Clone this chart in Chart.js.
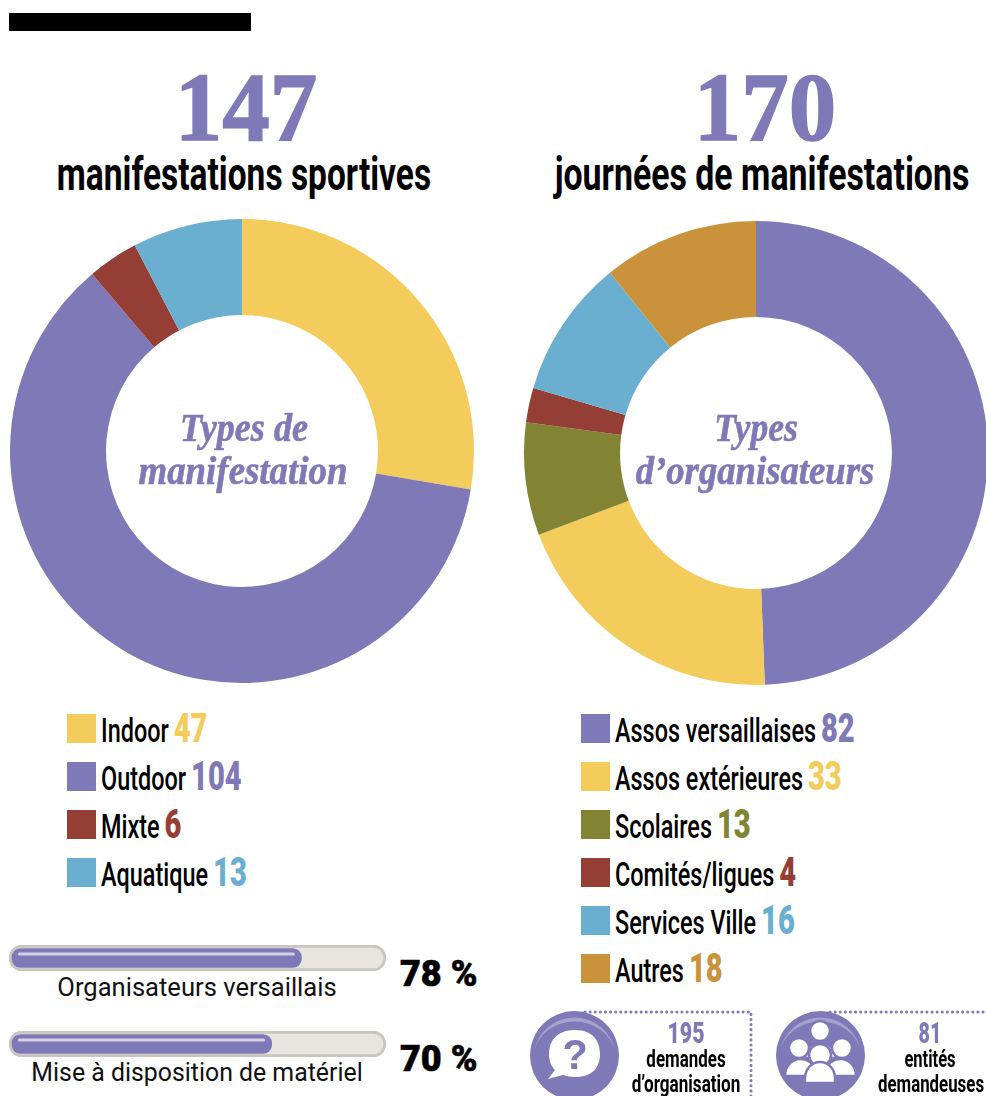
<!DOCTYPE html>
<html>
<head>
<meta charset="utf-8">
<script src="https://cdn.jsdelivr.net/npm/chart.js@4"></script>
<style>
html, body { margin: 0; padding: 0; background: #fff; }
#page { position: relative; width: 986px; height: 1096px; overflow: hidden; }
#page canvas { position: absolute; }
.t { position: absolute; white-space: nowrap; line-height: 1; transform: translateX(-50%); }
.big { font: bold 97px "Liberation Serif"; color: #8079b7; -webkit-text-stroke: 1.5px #8079b7; }
.title { font: bold 47px Roboto; color: #000; }
.script { font: italic bold 39px "Liberation Serif"; color: #8079b7; -webkit-text-stroke: 0.6px #8079b7; }
.legend { font: 500 33px Roboto; color: #000; transform: scaleX(0.71); transform-origin: left center; }
.legend b { font-size: 41px; font-weight: 900; margin-left: 7px; }
.swatch { position: absolute; width: 29px; height: 29px; }
.pct { font: 900 36px Roboto; color: #000; -webkit-text-stroke: 0.6px #000; transform: none; }
.barlabel { font: 25px Roboto; color: #111; }
.num { font: 900 30px Roboto; color: #8079b7; }
.small { font: bold 24px Roboto; color: #000; }
svg { position: absolute; left: 0; top: 0; }
</style>
</head>
<body>
<div id="page">
  <div style="position:absolute;left:9px;top:13px;width:242px;height:18px;background:#000"></div>

  <div class="t big" data-w="143" style="left:246px;top:52px">147</div>
  <div class="t title" data-w="374" style="left:244px;top:146px">manifestations sportives</div>
  <div class="t big" data-w="143" style="left:765px;top:52px">170</div>
  <div class="t title" data-w="415" style="left:762px;top:146px">journées de manifestations</div>

  <canvas id="typesChart" width="464" height="464" style="left:10px;top:219px"></canvas>
  <canvas id="orgaChart" width="464" height="464" style="left:524px;top:221px"></canvas>

  <div class="t script" data-w="128" style="left:244px;top:405px">Types de</div>
  <div class="t script" data-w="209" style="left:243px;top:448px">manifestation</div>
  <div class="t script" data-w="84" style="left:756px;top:405px">Types</div>
  <div class="t script" data-w="239" style="left:755px;top:448px">d’organisateurs</div>

  <div id="legends"></div>

  <canvas id="bar1" width="377" height="26" style="left:9px;top:945px"></canvas>
  <canvas id="bar2" width="377" height="26" style="left:9px;top:1031px"></canvas>
  <div class="t barlabel" data-w="279" style="left:197px;top:973px">Organisateurs versaillais</div>
  <div class="t barlabel" data-w="331" style="left:197px;top:1058px">Mise à disposition de matériel</div>
  <div class="t pct" id="pct1" style="left:400px;top:953px"></div>
  <div class="t pct" id="pct2" style="left:400px;top:1038px"></div>

  <svg width="986" height="1096">
    <path d="M585 1012H751V1096M830 1012H986" fill="none" stroke="#8079b7" stroke-width="3" stroke-dasharray="0.1 5" stroke-linecap="round"/>
    <circle cx="574.5" cy="1055.5" r="44.5" fill="#8079b7"/>
    <path d="M534 1052a41 41 0 0 1 81 0a41 36 0 0 0-81 0z" fill="#a7a1cd"/>
    <path d="M575 1030c-18 0-26 11-26 24 0 7 2 12 6 16l-7 9 15-4c4 1 8 2 12 2 18 0 25-10 25-23s-7-24-25-24z" fill="#fff"/>
    <text x="575" y="1069" text-anchor="middle" font-family="Liberation Sans" font-weight="bold" font-size="42" fill="#8079b7">?</text>
    <circle cx="820.5" cy="1055.5" r="44.5" fill="#8079b7"/>
    <path d="M780 1052a41 41 0 0 1 81 0a41 36 0 0 0-81 0z" fill="#a7a1cd"/>
    <g fill="#fff" stroke="#8079b7" stroke-width="2.5">
      <circle cx="820" cy="1031" r="10"/>
      <path d="M804 1058c0-20 32-20 32 0z"/>
      <circle cx="799" cy="1048" r="10"/>
      <path d="M785 1076c0-22 30-22 30-3l-5 3z"/>
      <circle cx="842" cy="1048" r="10"/>
      <path d="M856 1076c0-22-30-22-30-3l5 3z"/>
      <circle cx="820" cy="1055" r="11"/>
      <path d="M805 1083c-3-28 33-28 30 0z"/>
    </g>
  </svg>

  <div class="t num" data-w="37" style="left:686px;top:1015px">195</div>
  <div class="t small" data-w="79" style="left:686px;top:1045px">demandes</div>
  <div class="t small" data-w="109" style="left:686px;top:1070px">d’organisation</div>
  <div class="t num" data-w="23" style="left:930px;top:1015px">81</div>
  <div class="t small" data-w="51" style="left:930px;top:1045px">entités</div>
  <div class="t small" data-w="106" style="left:931px;top:1070px">demandeuses</div>
</div>

<script>
const typeLabels = ['Indoor', 'Outdoor', 'Mixte', 'Aquatique'];
const typeValues = [47, 104, 6, 13];
const typeColors = ['#f4cc5b', '#8079b7', '#953e36', '#6aafd0'];

const orgaLabels = ['Assos versaillaises', 'Assos extérieures', 'Scolaires', 'Comités/ligues', 'Services Ville', 'Autres'];
const orgaValues = [82, 33, 13, 4, 16, 18];
const orgaColors = ['#8079b7', '#f4cc5b', '#828434', '#953e36', '#6aafd0', '#c9923b'];

const barValues = [78, 70];

Chart.defaults.animation = false;
Chart.defaults.responsive = false;

function drawDonut(id, labels, values, colors) {
    new Chart(document.getElementById(id), {
        type: 'doughnut',
        data: {
            labels: labels,
            datasets: [{ data: values, backgroundColor: colors, borderWidth: 0 }]
        },
        options: {
            cutout: '58.6%',
            plugins: { legend: { display: false }, tooltip: { enabled: false } }
        }
    });
}

drawDonut('typesChart', typeLabels, typeValues, typeColors);
drawDonut('orgaChart', orgaLabels, orgaValues, orgaColors);

// Legend rows next to the coloured squares
function drawLegend(x, labels, values, colors) {
    const box = document.getElementById('legends');
    labels.forEach(function (label, i) {
        const y = 714 + i * 48;
        const swatch = document.createElement('div');
        swatch.className = 'swatch';
        swatch.style.cssText = 'left:' + x + 'px;top:' + y + 'px;background:' + colors[i];
        box.appendChild(swatch);
        const row = document.createElement('div');
        row.className = 't legend';
        row.style.cssText = 'left:' + (x + 34) + 'px;top:' + (y - 10) + 'px';
        row.innerHTML = label + '<b style="color:' + colors[i] + '">' + values[i] + '</b>';
        box.appendChild(row);
    });
}

drawLegend(67, typeLabels, typeValues, typeColors);
drawLegend(581, orgaLabels, orgaValues, orgaColors);

// Squeeze the regular fonts to the condensed widths of the original
document.querySelectorAll('[data-w]').forEach(function (el) {
    const k = Number(el.dataset.w) / el.offsetWidth;
    el.style.transform = 'translateX(-50%) scaleX(' + k + ')';
});

// Light line on top of the progress bar
const barShine = {
    id: 'barShine',
    afterDatasetsDraw(chart) {
        const x = chart.scales.x;
        const ctx = chart.ctx;
        ctx.save();
        ctx.strokeStyle = '#d5d2e8';
        ctx.lineWidth = 3;
        ctx.lineCap = 'round';
        ctx.beginPath();
        ctx.moveTo(x.getPixelForValue(2), 9);
        ctx.lineTo(x.getPixelForValue(chart.data.datasets[0].data[0]) - 8, 9);
        ctx.stroke();
        ctx.restore();
    }
};

function drawBar(id, value) {
    new Chart(document.getElementById(id), {
        type: 'bar',
        data: {
            labels: [''],
            datasets: [
                { data: [value], backgroundColor: '#8079b7', barThickness: 19, borderRadius: 9, borderSkipped: false, grouped: false, order: 1 },
                { data: [[-0.8, 100.8]], backgroundColor: '#e8e5e0', borderColor: '#c9c6c1', borderWidth: 3, barThickness: 26, borderRadius: 13, borderSkipped: false, grouped: false, order: 2 }
            ]
        },
        options: {
            indexAxis: 'y',
            layout: { padding: 0 },
            scales: {
                x: { display: false, min: -0.8, max: 100.8 },
                y: { display: false }
            },
            plugins: { legend: { display: false }, tooltip: { enabled: false } }
        },
        plugins: [barShine]
    });
}

drawBar('bar1', barValues[0]);
drawBar('bar2', barValues[1]);
document.getElementById('pct1').textContent = barValues[0] + ' %';
document.getElementById('pct2').textContent = barValues[1] + ' %';
</script>
</body>
</html>
